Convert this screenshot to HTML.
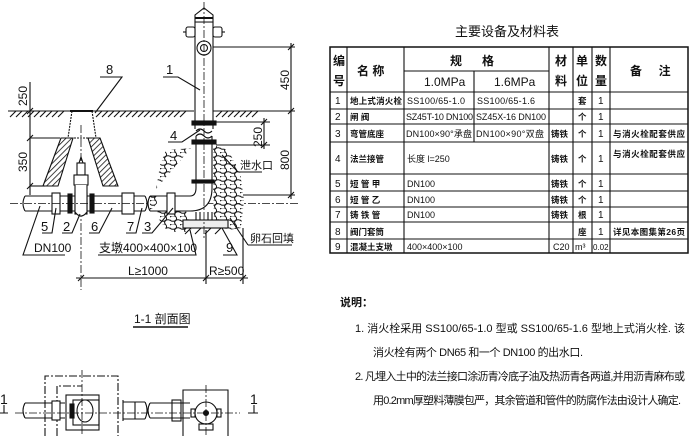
<!DOCTYPE html>
<html><head><meta charset="utf-8"><style>
body{margin:0;background:#fff;}
svg{display:block}
text{font-family:"Liberation Sans","Noto Sans CJK SC",sans-serif;fill:#111}
</style></head><body>
<svg width="700" height="436" viewBox="0 0 700 436" xmlns="http://www.w3.org/2000/svg">
<defs>
<pattern id="pb" width="10" height="8" patternUnits="userSpaceOnUse">
<ellipse cx="3" cy="2.5" rx="3.6" ry="2.8" fill="#fff" stroke="#111" stroke-width="1"/>
<ellipse cx="8" cy="6.5" rx="3.4" ry="2.7" fill="#fff" stroke="#111" stroke-width="1"/>
</pattern>
<pattern id="hat" width="4" height="4" patternUnits="userSpaceOnUse" patternTransform="rotate(45)">
<line x1="0" y1="0" x2="0" y2="4" stroke="#111" stroke-width="1.6"/>
</pattern>
</defs>
<g fill="none" stroke="#111" stroke-width="1.1">
<line x1="8" y1="111" x2="70" y2="111"/><line x1="93" y1="111" x2="194" y2="111"/><line x1="213" y1="111" x2="295" y2="111"/>
<path d="M10,117 l6,-6 M16,117 l6,-6 M22,117 l6,-6 M28,117 l6,-6 M34,117 l6,-6 M40,117 l6,-6 M46,117 l6,-6 M52,117 l6,-6 M58,117 l6,-6 M96,117 l6,-6 M102,117 l6,-6 M108,117 l6,-6 M114,117 l6,-6 M120,117 l6,-6 M126,117 l6,-6 M132,117 l6,-6 M138,117 l6,-6 M144,117 l6,-6 M150,117 l6,-6 M156,117 l6,-6 M162,117 l6,-6 M168,117 l6,-6 M174,117 l6,-6 M180,117 l6,-6 M216,117 l6,-6 M222,117 l6,-6 M228,117 l6,-6 M234,117 l6,-6 M240,117 l6,-6 M246,117 l6,-6 M252,117 l6,-6"/>
<path d="M72,111 L68,138 M92,111 L96,138 M68,138 L96,138" stroke-dasharray="2 1"/>
<line x1="70" y1="111" x2="93" y2="111" stroke-width="2"/>
<path d="M61,138 L43,186 L58,186 L73,138 Z" fill="url(#hat)"/>
<path d="M100,138 L118,186 L103,186 L88,138 Z" fill="url(#hat)"/>
<line x1="81" y1="125" x2="81" y2="290" stroke-dasharray="8 2 2 2" stroke-width="0.8"/>
<rect x="77" y="163" width="8" height="12" fill="#fff"/>
<path d="M79,163 l2,-6 l2,6" />
<rect x="74" y="175" width="14" height="10" fill="#fff"/>
<path d="M25,196 L145,196 M25,211 L145,211"/>
<path d="M25,196 q-4,7.5 0,15 M145,196 q4,7.5 0,15"/>
<rect x="52" y="193" width="8" height="21" fill="#fff"/>
<rect x="68" y="194" width="4" height="19" fill="#111"/><rect x="90" y="194" width="4" height="19" fill="#111"/>
<rect x="75" y="193" width="12" height="21" fill="#fff"/>
<path d="M75,185 L75,212 Q81,220 87,212 L87,185" fill="#fff"/>
<rect x="122" y="193" width="12" height="21" fill="#fff"/>
<line x1="10" y1="203.5" x2="300" y2="203.5" stroke-dasharray="8 2 2 2" stroke-width="0.8"/>
<path d="M166,150 L194,148 L194,196 L150,196 L150,211 L186,211 L192,232 L168,232 L158,218 L156,190 L160,165 Z" fill="url(#pb)" stroke="none"/>
<path d="M213,145 L228,150 L240,172 L244,200 L241,228 L228,230 L214,222 L213,190 Z" fill="url(#pb)" stroke="none"/>
<path d="M150,196 L190,196 Q196,196 196,188 L196,142 M150,211 L190,211 Q212,211 212,188 L212,142" fill="#fff"/>
<path d="M150,196 q-4,7.5 0,15"/>
<rect x="167" y="193" width="8" height="21" fill="#fff"/>
<rect x="183" y="220" width="45" height="8" fill="#eee"/>
<path d="M196,212 L196,220 M212,212 L212,220 M200,212 L200,220 M208,212 L208,220"/>
<path d="M185,234 l6,-6 M195,234 l6,-6 M205,234 l6,-6 M215,234 l6,-6"/>
<rect x="195" y="22" width="18" height="101" fill="#fff"/>
<rect x="192" y="121" width="24" height="4" fill="#111"/>
<rect x="192" y="140" width="24" height="4" fill="#111"/>
<rect x="192" y="180" width="22" height="3" fill="#111"/>
<path d="M195,125 L195,129 M213,125 L213,129 M196,140 L196,136 M212,140 L212,136"/>
<path d="M196,131 q4,-4 8,0 q4,4 8,0 M196,136 q4,-4 8,0 q4,4 8,0"/>
<path d="M195,22 L195,15 L204,8 L213,15 L213,22 Z" fill="#fff"/>
<line x1="195" y1="18" x2="213" y2="18" stroke-width="2"/>
<rect x="186" y="27" width="9" height="10" rx="2" fill="#fff"/><rect x="213" y="27" width="9" height="10" rx="2" fill="#fff"/>
<line x1="183" y1="32" x2="186" y2="32"/><line x1="222" y1="32" x2="225" y2="32"/>
<circle cx="204" cy="48" r="7" fill="#fff"/><circle cx="204" cy="48" r="3.5"/>
<line x1="204" y1="2" x2="204" y2="240" stroke-dasharray="8 2 2 2" stroke-width="0.8"/>
<line x1="213" y1="47" x2="295" y2="47"/><line x1="243" y1="195" x2="295" y2="195"/>
<line x1="291" y1="43" x2="291" y2="199"/>
<path d="M288,50 l6,-6 M288,114 l6,-6 M288,198 l6,-6"/>
<line x1="216" y1="122" x2="270" y2="122"/><line x1="216" y1="145" x2="270" y2="145"/>
<line x1="264" y1="118" x2="264" y2="149"/>
<path d="M261,125 l6,-6 M261,148 l6,-6"/>
<line x1="30" y1="82" x2="30" y2="195"/>
<path d="M27,114 l6,-6 M27,141 l6,-6 M27,189 l6,-6"/>
<line x1="30" y1="138" x2="60" y2="138"/>
<line x1="30" y1="186" x2="45" y2="186"/>
<path d="M100,77 L122,77 L95,113"/>
<path d="M163,77 L178,77 L200,90"/>
<path d="M168,142 L182,142 L200,130"/>
<path d="M238,172 L262,172 M238,172 L222,155"/>
<path d="M248,245 L292,245 M248,245 L230,218"/>
<path d="M223,255 L237,255 L222,228"/>
<path d="M40,206 L23,255 L65,255"/>
<path d="M42,233 L52,233 L56,208"/><path d="M62,233 L72,233 L80,214"/><path d="M89,233 L99,233 L112,208"/><path d="M126,233 L136,233 L142,208"/><path d="M142,233 L152,233 L173,208"/>
<path d="M98,255 L196,255 L190,230"/>
<line x1="206" y1="230" x2="206" y2="284"/><line x1="243" y1="228" x2="243" y2="284"/>
<line x1="76" y1="278" x2="248" y2="278"/>
<path d="M78,281 l6,-6 M203,281 l6,-6 M240,281 l6,-6"/>
<line x1="133" y1="327" x2="188" y2="327" stroke-width="1.5"/>
<path d="M45,436 L45,376 L118,376 L118,436" stroke-dasharray="8 2 2 2"/>
<path d="M57,436 L57,386 L82,386" stroke-dasharray="8 2 2 2"/>
<rect x="66" y="395" width="33" height="35"/><rect x="73" y="400" width="26" height="25"/>
<path d="M25,403 L65,403 M25,418 L65,418 M25,403 q-4,7.5 0,15"/>
<rect x="52" y="401" width="8" height="19" fill="#fff"/>
<rect x="70" y="404" width="4" height="14" fill="#111"/>
<ellipse cx="85" cy="411" rx="8" ry="11" fill="#fff"/>
<path d="M123,402 L145,402 M123,419 L145,419 M145,402 q4,8 0,17 M123,400 L123,421 M135,402 L135,419"/>
<path d="M150,403 L190,403 M150,418 L190,418 M150,403 q-4,7.5 0,15"/>
<rect x="172" y="400" width="9" height="21"/>
<path d="M183,436 L183,390 L228,390 L228,436"/>
<circle cx="206" cy="413" r="11" fill="#fff"/><circle cx="206" cy="413" r="2.5" fill="#111"/>
<rect x="199" y="424" width="14" height="6"/>
<rect x="191" y="409" width="4" height="8"/><rect x="217" y="409" width="4" height="8"/>
<line x1="206" y1="385" x2="206" y2="436" stroke-dasharray="8 2 2 2" stroke-width="0.8"/>
<line x1="82" y1="370" x2="82" y2="436" stroke-dasharray="8 2 2 2" stroke-width="0.8"/>
<line x1="15" y1="413" x2="240" y2="413" stroke-dasharray="8 2 2 2" stroke-width="0.8"/>
<path d="M0,413 L8,413 M4,405 L4,413 M248,413 L258,413 M254,405 L254,413"/>
<rect x="330" y="47" width="358" height="206" stroke-width="1.5"/>
<path d="M347,47 V253 M404,47 V253 M474,71 V142 M549,47 V253 M573,47 V253 M592,47 V253 M610,47 V253"/>
<path d="M404,71 H549 M330,92 H688 M330,109 H688 M330,124 H688 M330,142 H688 M330,174 H688 M330,191 H688 M330,207 H688 M330,222 H688 M330,239 H688"/>
</g>
<g font-size="12">
<text x="166" y="74" font-size="13">1</text>
<text x="106" y="74" font-size="13">8</text>
<text x="170" y="140" font-size="13">4</text>
<text x="240" y="169" font-size="11">泄水口</text>
<text x="250" y="242" font-size="11">卵石回填</text>
<text x="226" y="252" font-size="13">9</text>
<text x="41" y="231" font-size="13">5</text><text x="63" y="231" font-size="13">2</text><text x="91" y="231" font-size="13">6</text><text x="127" y="231" font-size="13">7</text><text x="144" y="231" font-size="13">3</text>
<text x="34" y="252" font-size="12">DN100</text>
<text x="99" y="252" font-size="12">支墩400×400×100</text>
<text x="128" y="275" font-size="12">L≥1000</text>
<text x="209" y="275" font-size="12">R≥500</text>
<text transform="translate(289,90) rotate(-90)" font-size="12">450</text>
<text transform="translate(289,170) rotate(-90)" font-size="12">800</text>
<text transform="translate(262,147) rotate(-90)" font-size="12">250</text>
<text transform="translate(27,106) rotate(-90)" font-size="12">250</text>
<text transform="translate(27,172) rotate(-90)" font-size="12">350</text>
<text x="134" y="323" font-size="12">1-1 剖面图</text>
<text x="0" y="404" font-size="14">1</text><text x="250" y="404" font-size="14">1</text>
<text x="455" y="36" font-size="13">主要设备及材料表</text>
</g>
<g font-size="8.5" font-weight="bold">
<text x="333" y="65" font-size="12">编</text><text x="333" y="85" font-size="12">号</text>
<text x="357" y="75" font-size="12">名 称</text>
<text x="450" y="65" font-size="12">规&#160;&#160;&#160;&#160;&#160;&#160;格</text>
<text x="424" y="86" font-size="12" font-weight="normal">1.0MPa</text><text x="494" y="86" font-size="12" font-weight="normal">1.6MPa</text>
<text x="555" y="65" font-size="12">材</text><text x="555" y="85" font-size="12">料</text>
<text x="576" y="65" font-size="12">单</text><text x="576" y="85" font-size="12">位</text>
<text x="595" y="65" font-size="12">数</text><text x="595" y="85" font-size="12">量</text>
<text x="630" y="75" font-size="12">备&#160;&#160;&#160;&#160;&#160;注</text>
<g font-weight="normal" font-size="10"><text x="335" y="104">1</text><text x="335" y="120">2</text><text x="335" y="137">3</text><text x="335" y="162">4</text><text x="335" y="187">5</text><text x="335" y="203">6</text><text x="335" y="218">7</text><text x="335" y="235">8</text><text x="335" y="250">9</text></g>
<text x="350" y="104" textLength="52">地上式消火栓</text><text x="350" y="120">闸 阀</text><text x="350" y="137">弯管底座</text><text x="350" y="162">法兰接管</text><text x="350" y="187">短 管 甲</text><text x="350" y="203">短 管 乙</text><text x="350" y="218">铸 铁 管</text><text x="350" y="235">阀门套筒</text><text x="350" y="250">混凝土支墩</text>
<g font-weight="normal" font-size="9">
<text x="407" y="104" textLength="58">SS100/65-1.0</text><text x="477" y="104" textLength="58">SS100/65-1.6</text>
<text x="406" y="120" textLength="67">SZ45T-10 DN100</text><text x="476" y="120" textLength="70">SZ45X-16 DN100</text>
<text x="406" y="137" textLength="66">DN100×90°承盘</text><text x="476" y="137" textLength="68">DN100×90°双盘</text>
<text x="407" y="162">长度 l=250</text>
<text x="407" y="187">DN100</text><text x="407" y="203">DN100</text><text x="407" y="218">DN100</text>
<text x="407" y="250">400×400×100</text>
<text x="553" y="250">C20</text><text x="575" y="250">m³</text><text x="593" y="250" font-size="8">0.02</text>
</g>
<text x="551" y="137">铸铁</text><text x="551" y="162">铸铁</text><text x="551" y="187">铸铁</text><text x="551" y="203">铸铁</text><text x="551" y="218">铸铁</text>
<text x="578" y="104">套</text><text x="578" y="120">个</text><text x="578" y="137">个</text><text x="578" y="162">个</text><text x="578" y="187">个</text><text x="578" y="203">个</text><text x="578" y="218">根</text><text x="578" y="235">座</text>
<g font-weight="normal" font-size="10"><text x="598" y="104">1</text><text x="598" y="120">1</text><text x="598" y="137">1</text><text x="598" y="162">1</text><text x="598" y="187">1</text><text x="598" y="203">1</text><text x="598" y="218">1</text><text x="598" y="235">1</text></g>
<text x="613" y="137" textLength="72">与消火栓配套供应</text><text x="613" y="157" textLength="72">与消火栓配套供应</text><text x="613" y="235" textLength="72">详见本图集第26页</text>
</g>
<g font-size="11">
<text x="340" y="306" font-weight="bold">说明：</text>
<text x="355" y="332" textLength="330">1. 消火栓采用 SS100/65-1.0 型或 SS100/65-1.6 型地上式消火栓. 该</text>
<text x="373" y="356" textLength="210">消火栓有两个 DN65 和一个 DN100 的出水口.</text>
<text x="355" y="380" textLength="330">2. 凡埋入土中的法兰接口涂沥青冷底子油及热沥青各两道,并用沥青麻布或</text>
<text x="373" y="404" textLength="308">用0.2mm厚塑料薄膜包严，其余管道和管件的防腐作法由设计人确定.</text>
</g>
</svg>
</body></html>
